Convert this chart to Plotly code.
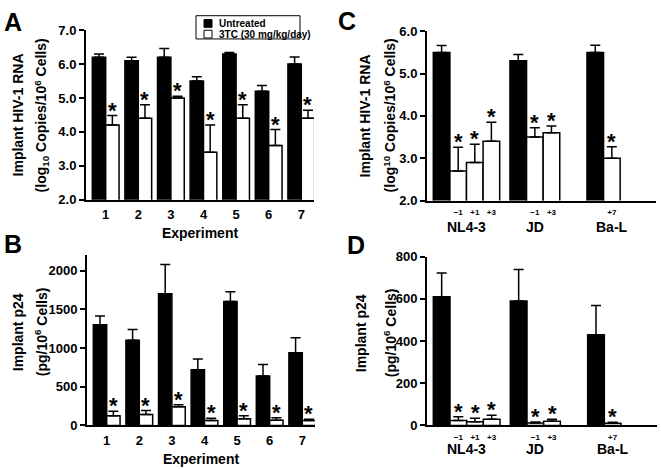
import plotly.graph_objects as go

W, H = 661, 469
FONT = "Liberation Sans, Arial, sans-serif"

# ---------------- data ----------------
experiments = [1, 2, 3, 4, 5, 6, 7]

a_untreated = [6.2, 6.1, 6.2, 5.5, 6.3, 5.2, 6.0]
a_untreated_err = [0.1, 0.1, 0.26, 0.13, 0.04, 0.17, 0.21]
a_3tc = [4.2, 4.4, 5.0, 3.4, 4.4, 3.6, 4.4]
a_3tc_err = [0.28, 0.4, 0.05, 0.8, 0.4, 0.47, 0.24]

b_untreated = [1300, 1100, 1700, 720, 1600, 640, 940]
b_untreated_err = [115, 140, 380, 140, 126, 146, 192]
b_3tc = [125, 143, 243, 63, 88, 67, 63]
b_3tc_err = [59, 50, 25, 29, 38, 33, 17]

strains = ["NL4-3", "JD", "Ba-L"]
days = [["\u22121", "+1", "+3"], ["\u22121", "+3"], ["+7"]]

c_untreated = [5.5, 5.3, 5.5]
c_untreated_err = [0.16, 0.15, 0.17]
c_3tc = [[2.7, 2.9, 3.4], [3.5, 3.6], [3.0]]
c_3tc_err = [[0.56, 0.43, 0.45], [0.22, 0.16], [0.27]]

d_untreated = [610, 590, 430]
d_untreated_err = [113, 149, 139]
d_3tc = [[23, 18, 30], [12, 20], [11]]
d_3tc_err = [[18, 16, 19], [5, 9], [4]]

legend_names = ["Untreated", "3TC (30 mg/kg/day)"]

# ---------------- layout helpers ----------------
def xdom(p0, p1):
    return [p0 / W, p1 / W]

def ydom(ptop, pbot):
    return [1 - pbot / H, 1 - ptop / H]

def px_x(p):
    return p / W

def px_y(p):
    return 1 - p / H

BAR_W = 0.41                      # panels A/B bar width (x units)
GROUP_START = [0.38, 5.0, 9.64]   # panels C/D slot start of each strain group
GROUP_SLOTS = 3                   # label centring width for the smaller groups

def errbar(arr):
    return dict(type="data", array=arr, arrayminus=[0] * len(arr), symmetric=False,
                color="black", thickness=1.5, width=5)

fig = go.Figure()

def add_ab(untr, untr_err, trt, trt_err, xa, ya):
    fig.add_trace(go.Bar(x=experiments, y=untr, width=BAR_W, offset=-BAR_W,
                         marker=dict(color="black", line=dict(color="black", width=1.5)),
                         error_y=errbar(untr_err), xaxis=xa, yaxis=ya,
                         name=legend_names[0], showlegend=False))
    fig.add_trace(go.Bar(x=experiments, y=trt, width=BAR_W, offset=0,
                         marker=dict(color="white", line=dict(color="black", width=1.5)),
                         error_y=errbar(trt_err), xaxis=xa, yaxis=ya,
                         name=legend_names[1], showlegend=False))
    for e, v, er in zip(experiments, trt, trt_err):
        fig.add_annotation(x=e + BAR_W / 2, y=v + er, xref=xa, yref=ya, text="<b>*</b>",
                           showarrow=False, yanchor="bottom", yshift=-9,
                           font=dict(family=FONT, size=22, color="black"))

def add_cd(untr, untr_err, trt, trt_err, xa, ya):
    xb = [s + 0.5 for s in GROUP_START]
    xw, yw, ew = [], [], []
    for g, s in enumerate(GROUP_START):
        for j, (v, er) in enumerate(zip(trt[g], trt_err[g])):
            xw.append(s + 1.5 + j)
            yw.append(v)
            ew.append(er)
    fig.add_trace(go.Bar(x=xb, y=untr, width=1,
                         marker=dict(color="black", line=dict(color="black", width=1.5)),
                         error_y=errbar(untr_err), xaxis=xa, yaxis=ya,
                         name=legend_names[0], showlegend=False))
    fig.add_trace(go.Bar(x=xw, y=yw, width=1,
                         marker=dict(color="white", line=dict(color="black", width=1.5)),
                         error_y=errbar(ew), xaxis=xa, yaxis=ya,
                         name=legend_names[1], showlegend=False))
    for x, v, er in zip(xw, yw, ew):
        fig.add_annotation(x=x, y=v + er, xref=xa, yref=ya, text="<b>*</b>",
                           showarrow=False, yanchor="bottom", yshift=-9,
                           font=dict(family=FONT, size=22, color="black"))
    return xw

add_ab(a_untreated, a_untreated_err, a_3tc, a_3tc_err, "x", "y")
add_ab(b_untreated, b_untreated_err, b_3tc, b_3tc_err, "x2", "y2")
xw_c = add_cd(c_untreated, c_untreated_err, c_3tc, c_3tc_err, "x3", "y3")
xw_d = add_cd(d_untreated, d_untreated_err, d_3tc, d_3tc_err, "x4", "y4")

day_text = [d for grp in days for d in grp]

axis_common = dict(showline=True, linecolor="black", linewidth=2, showgrid=False,
                   zeroline=False, layer="above traces", fixedrange=True)
tickf = dict(family=FONT, size=13, color="black", weight="bold")
dayf = dict(family=FONT, size=8, color="black", weight="bold")
xtitle = dict(text="Experiment", standoff=7,
              font=dict(family=FONT, size=14, color="black", weight="bold"))

yaxis_common = dict(axis_common, ticks="outside", ticklen=5, tickwidth=1.5,
                    tickcolor="black", tickfont=tickf)
xaxis_common = dict(axis_common, ticks="", ticklen=0)

fig.update_layout(
    width=W, height=H, margin=dict(l=0, r=0, t=0, b=0), autosize=False,
    paper_bgcolor="white", plot_bgcolor="white", barmode="overlay",
    showlegend=False,
    font=dict(family=FONT, color="black"),
    xaxis=dict(xaxis_common, domain=xdom(86, 314), range=[0.396, 7.39], anchor="y",
               tickvals=experiments, tickfont=tickf, ticklabelstandoff=2, title=xtitle),
    yaxis=dict(yaxis_common, domain=ydom(24, 199), range=[2, 7], anchor="x",
               tickvals=[2, 3, 4, 5, 6, 7], tickformat=".1f"),
    xaxis2=dict(xaxis_common, domain=xdom(87, 315), range=[0.396, 7.39], anchor="y2",
                tickvals=experiments, tickfont=tickf, ticklabelstandoff=2, title=xtitle),
    yaxis2=dict(yaxis_common, domain=ydom(256, 432.3), range=[0, 2204], anchor="x2",
                tickvals=[0, 500, 1000, 1500, 2000]),
    xaxis3=dict(xaxis_common, domain=xdom(427, 656), range=[0, 13.8], anchor="y3",
                tickvals=xw_c, ticktext=day_text, tickfont=dayf, ticklabelstandoff=3),
    yaxis3=dict(yaxis_common, domain=ydom(25, 200), range=[2, 6], anchor="x3",
                tickvals=[2, 3, 4, 5, 6], tickformat=".1f"),
    xaxis4=dict(xaxis_common, domain=xdom(427, 657), range=[0, 13.8], anchor="y4",
                tickvals=xw_d, ticktext=day_text, tickfont=dayf, ticklabelstandoff=3),
    yaxis4=dict(yaxis_common, domain=ydom(258, 432.3), range=[0, 800], anchor="x4",
                tickvals=[0, 200, 400, 600, 800]),
)

# strain group labels (C and D)
for xa, ypx in (("x3", 227), ("x4", 457)):
    for g, s in enumerate(GROUP_START):
        nslots = max(len(days[g]) + 1, GROUP_SLOTS)
        fig.add_annotation(x=s + nslots / 2, y=px_y(ypx), xref=xa, yref="paper",
                           text=strains[g], showarrow=False, xanchor="center", yanchor="middle",
                           font=dict(family=FONT, size=14, color="black", weight="bold"))

# y-axis titles
title_font = dict(family=FONT, size=14, color="black", weight="bold")
ytitles = [
    (18, 42, 112, "Implant HIV-1 RNA", "(log<sub>10</sub> Copies/10<sup>6</sup> Cells)"),
    (18, 41, 336, "Implant p24", "(pg/10<sup>6</sup> Cells)"),
    (365, 390, 112, "Implant HIV-1 RNA", "(log<sup>10</sup> Copies/10<sup>6</sup> Cells)"),
    (361, 390, 337, "Implant p24", "(pg/10<sup>6</sup> Cells)"),
]
for x1, x2, yc, t1, t2 in ytitles:
    for xp, t in ((x1, t1), (x2, t2)):
        fig.add_annotation(x=px_x(xp), y=px_y(yc), xref="paper", yref="paper", text=t,
                           textangle=-90, showarrow=False, xanchor="center", yanchor="middle",
                           font=title_font)

# panel letters
for letter, xp, yp in (("A", 13, 16), ("B", 13, 245), ("C", 347, 14), ("D", 356, 246)):
    fig.add_annotation(x=px_x(xp), y=px_y(yp), xref="paper", yref="paper", text=letter,
                       showarrow=False, xanchor="center", yanchor="middle",
                       font=dict(family=FONT, size=25, color="black", weight="bold"))

# legend box (panel A)
fig.add_shape(type="rect", xref="paper", yref="paper",
              x0=px_x(196), x1=px_x(300), y0=px_y(33), y1=px_y(9),
              line=dict(color="black", width=1), fillcolor="white")
for i, (name, col) in enumerate(zip(legend_names, ["black", "white"])):
    yc = 17 + 11 * i
    fig.add_shape(type="rect", xref="paper", yref="paper",
                  x0=px_x(204), x1=px_x(212), y0=px_y(yc + 4), y1=px_y(yc - 4),
                  line=dict(color="black", width=1), fillcolor=col)
    fig.add_annotation(x=px_x(217), y=px_y(yc), xref="paper", yref="paper", text=name,
                       showarrow=False, xanchor="left", yanchor="middle",
                       font=dict(family=FONT, size=10, color="black", weight="bold"))

fig.write_html("out.html", config={"responsive": False, "displayModeBar": False},
               post_script="document.body.style.margin='0';document.body.style.overflow='hidden';")
